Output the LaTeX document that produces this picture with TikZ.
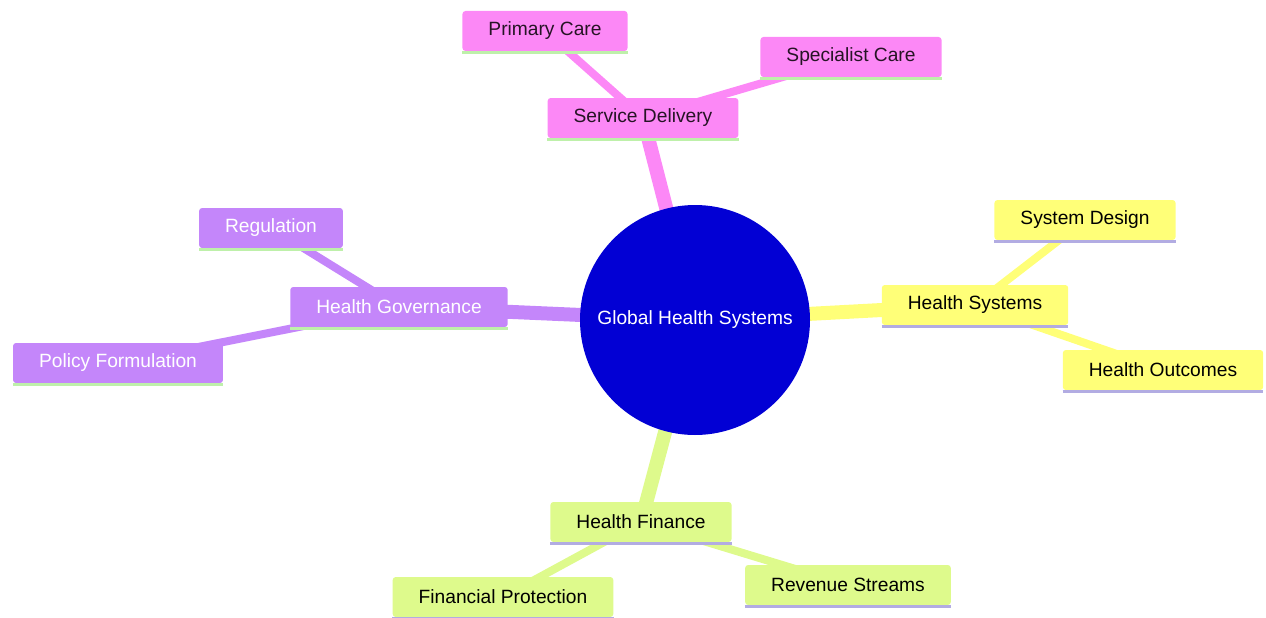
\documentclass[tikz,border=0pt]{standalone}
\usepackage{fontspec}
\setmainfont{Liberation Sans}
\usepackage{xcolor}
\usepackage{tikz}
\usetikzlibrary{backgrounds}
\definecolor{sdpink}{RGB}{252,136,246}
\definecolor{govpurple}{RGB}{196,134,250}
\definecolor{sysyellow}{RGB}{255,255,120}
\definecolor{fingreen}{RGB}{222,250,140}
\definecolor{rootblue}{RGB}{2,0,212}
\definecolor{ulgreen}{RGB}{190,240,170}
\definecolor{ullilac}{RGB}{178,172,226}
\tikzstyle{topic} = [rectangle, rounded corners=3pt, minimum height=40pt, inner xsep=26pt, text centered, font=\fontsize{19.2}{22}\selectfont]
\tikzstyle{root} = [circle, minimum size=230pt, inner sep=0pt, fill=rootblue, text=white, font=\fontsize{19.2}{22}\selectfont]
\tikzstyle{trunk} = [line width=14pt]
\tikzstyle{twig} = [line width=8pt]
\tikzstyle{uline} = [line width=3pt]

\begin{document}
\begin{tikzpicture}[x=1pt, y=-1pt]
    \useasboundingbox (0,0) rectangle (1266,618);
    \node(root)[root] at (695,320) {Global Health Systems};
    % service delivery branch
    \node(sd)[topic, fill=sdpink, text=black!85!sdpink] at (643,118) {Service Delivery};
    \node(pc)[topic, fill=sdpink, text=black!85!sdpink] at (545,31) {Primary Care};
    \node(sc)[topic, fill=sdpink, text=black!85!sdpink] at (851,57) {Specialist Care};
    % governance branch
    \node(gov)[topic, fill=govpurple, text=white] at (399,307) {Health Governance};
    \node(reg)[topic, fill=govpurple, text=white] at (271,228) {Regulation};
    \node(pol)[topic, fill=govpurple, text=white] at (118,363) {Policy Formulation};
    % systems branch
    \node(sys)[topic, fill=sysyellow] at (975,305) {Health Systems};
    \node(des)[topic, fill=sysyellow] at (1085,220) {System Design};
    \node(out)[topic, fill=sysyellow] at (1163,370) {Health Outcomes};
    % finance branch
    \node(fin)[topic, fill=fingreen] at (641,522) {Health Finance};
    \node(prot)[topic, fill=fingreen] at (503,597) {Financial Protection};
    \node(rev)[topic, fill=fingreen] at (848,585) {Revenue Streams};

    \foreach \n/\c in {sd/ulgreen, pc/ulgreen, sc/ulgreen, gov/ulgreen, reg/ulgreen, pol/ulgreen, sys/ullilac, des/ullilac, out/ullilac, fin/ullilac, prot/ullilac, rev/ullilac}
        \draw[uline, \c]([yshift=-1.5pt]\n.south west)--([yshift=-1.5pt]\n.south east);

    \begin{pgfonlayer}{background}
        \draw[trunk, sdpink](root.center)--(sd.center);
        \draw[trunk, govpurple](root.center)--(gov.center);
        \draw[trunk, sysyellow](root.center)--(sys.center);
        \draw[trunk, fingreen](root.center)--(fin.center);
        \draw[twig, sdpink](sd.center)--(pc.center);
        \draw[twig, sdpink](sd.center)--(sc.center);
        \draw[twig, govpurple](gov.center)--(reg.center);
        \draw[twig, govpurple](gov.center)--(pol.center);
        \draw[twig, sysyellow](sys.center)--(des.center);
        \draw[twig, sysyellow](sys.center)--(out.center);
        \draw[twig, fingreen](fin.center)--(prot.center);
        \draw[twig, fingreen](fin.center)--(rev.center);
    \end{pgfonlayer}
\end{tikzpicture}
\end{document}
